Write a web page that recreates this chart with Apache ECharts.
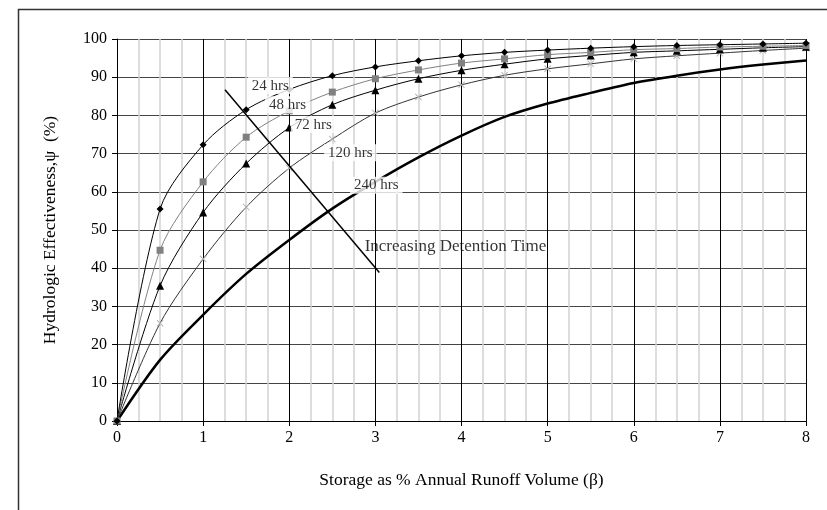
<!doctype html>
<html lang="en">
<head>
	<meta charset="UTF-8">
	<title>Hydrologic Effectiveness</title>
	<style>
		html, body { margin: 0; padding: 0; background: #fff; }
		#main { width: 827px; height: 510px; }
	</style>
</head>
<body>
<div id="main"></div>
<script src="https://cdn.jsdelivr.net/npm/echarts@6/dist/echarts.min.js"></script>
<script type="text/javascript">
	// storage values (beta), every 0.5 %
	var beta = [0, 0.5, 1, 1.5, 2, 2.5, 3, 3.5, 4, 4.5, 5, 5.5, 6, 6.5, 7, 7.5, 8];

	// hydrologic effectiveness (%) per detention time
	var hrs24  = [0, 55.5, 72.3, 81.5, 86.8, 90.4, 92.7, 94.3, 95.6, 96.5, 97.1, 97.6, 98.0, 98.3, 98.5, 98.7, 98.9];
	var hrs48  = [0, 44.7, 62.6, 74.3, 81.2, 86.1, 89.6, 91.9, 93.7, 94.8, 95.9, 96.5, 97.2, 97.5, 97.9, 98.1, 98.3];
	var hrs72  = [0, 35.4, 54.6, 67.4, 76.8, 82.8, 86.6, 89.6, 91.8, 93.4, 94.8, 95.7, 96.5, 96.9, 97.3, 97.7, 98.0];
	var hrs120 = [0, 25.6, 42.4, 56.0, 66.2, 73.8, 80.6, 84.8, 88.0, 90.5, 92.2, 93.5, 94.8, 95.6, 96.3, 97.0, 97.6];
	var hrs240 = [0, 16.0, 27.8, 38.5, 47.4, 55.6, 62.6, 69.0, 74.7, 79.6, 83.1, 85.9, 88.5, 90.4, 92.0, 93.3, 94.4];

	// curve labels, in data coordinates
	var curveLabels = [
		['24 hrs', 1.78, 87.8],
		['48 hrs', 1.98, 82.8],
		['72 hrs', 2.28, 77.6],
		['120 hrs', 2.71, 70.2],
		['240 hrs', 3.01, 61.7]
	];
	var arrowFrom = [1.254, 86.7];
	var arrowTo = [3.046, 38.9];
	var arrowText = ['Increasing Detention Time', 3.93, 45.7];

	var serif = 'Liberation Serif';
	var crossPath = 'path://M0,1L1,0L5,4L9,0L10,1L6,5L10,9L9,10L5,6L1,10L0,9L4,5Z';

	function pairs(ys) {
		var out = [];
		for (var i = 0; i < beta.length; i++) out.push([beta[i], ys[i]]);
		return out;
	}

	function curve(name, ys, lineColor, lineWidth, symbol, symbolColor, symbolSize) {
		return {
			name: name,
			type: 'line',
			data: pairs(ys),
			smooth: 0.3,
			showSymbol: symbol !== 'none',
			symbol: symbol,
			symbolSize: symbolSize,
			lineStyle: { color: lineColor, width: lineWidth },
			itemStyle: { color: symbolColor },
			emphasis: { disabled: true },
			z: 3
		};
	}

	var myChart = echarts.init(document.getElementById('main'));

	var option = {
		backgroundColor: '#fff',
		animation: false,
		textStyle: { fontFamily: serif },
		graphic: [{
			type: 'rect',
			left: 16, top: 7,
			shape: { width: 900, height: 600 },
			style: { fill: 'none', stroke: '#333', lineWidth: 1.5 },
			silent: true
		}],
		grid: { left: 117, right: 21, top: 39, bottom: 89, containLabel: false, outerBoundsMode: 'none' },
		xAxis: {
			type: 'value',
			min: 0, max: 8, interval: 1,
			name: 'Storage as % Annual Runoff Volume (\u03b2)',
			nameLocation: 'middle',
			nameGap: 50,
			nameTextStyle: { fontFamily: serif, fontSize: 17.5, color: '#000' },
			axisLine: { onZero: false, lineStyle: { color: '#000', width: 1 } },
			axisTick: { show: true, inside: false, length: 5, lineStyle: { color: '#000' } },
			axisLabel: { fontFamily: serif, fontSize: 16, color: '#000', margin: 9 },
			splitLine: { show: true, lineStyle: { color: '#000', width: 1 } },
			minorTick: { show: false, splitNumber: 4 },
			minorSplitLine: { show: true, lineStyle: { color: '#d2d2d2', width: 1.5 } }
		},
		yAxis: {
			type: 'value',
			min: 0, max: 100, interval: 10,
			name: 'Hydrologic Effectiveness,\u03c8  (%)',
			nameLocation: 'middle',
			nameGap: 58,
			nameTextStyle: { fontFamily: serif, fontSize: 17.5, color: '#000' },
			axisLine: { show: true, onZero: false, lineStyle: { color: '#000', width: 1 } },
			axisTick: { show: true, inside: false, length: 5, lineStyle: { color: '#000' } },
			axisLabel: { fontFamily: serif, fontSize: 16, color: '#000', margin: 10 },
			splitLine: { show: true, lineStyle: { color: '#444', width: 1.2 } }
		},
		series: [
			curve('240 hrs', hrs240, '#000', 2.5, 'none', '#000', 0),
			curve('120 hrs', hrs120, '#333', 1, crossPath, '#b4b4b4', 7),
			curve('72 hrs', hrs72, '#000', 1, 'triangle', '#000', 8),
			curve('48 hrs', hrs48, '#808080', 1, 'rect', '#808080', 7),
			curve('24 hrs', hrs24, '#000', 1, 'diamond', '#000', 7),
			{
				name: 'arrow',
				type: 'line',
				data: [],
				silent: true,
				markLine: {
					silent: true,
					symbol: ['none', 'arrow'],
					symbolSize: [0, 11],
					label: { show: false },
					lineStyle: { color: '#000', width: 1.5, type: 'solid' },
					data: [[{ coord: arrowFrom }, { coord: arrowTo }]]
				},
				z: 4
			},
			{
				name: 'labels',
				type: 'scatter',
				symbolSize: 0,
				silent: true,
				z: 6,
				data: curveLabels.map(function (c) { return { value: [c[1], c[2]], name: c[0] }; }),
				label: {
					show: true,
					position: 'inside',
					formatter: '{b}',
					fontFamily: serif,
					fontSize: 15,
					color: '#000',
					backgroundColor: '#fff',
					padding: [1, 4]
				}
			},
			{
				name: 'note',
				type: 'scatter',
				symbolSize: 0,
				silent: true,
				z: 6,
				data: [{ value: [arrowText[1], arrowText[2]], name: arrowText[0] }],
				label: {
					show: true,
					position: 'inside',
					formatter: '{b}',
					fontFamily: serif,
					fontSize: 17,
					color: '#000'
				}
			}
		]
	};

	myChart.setOption(option);
</script>
</body>
</html>
